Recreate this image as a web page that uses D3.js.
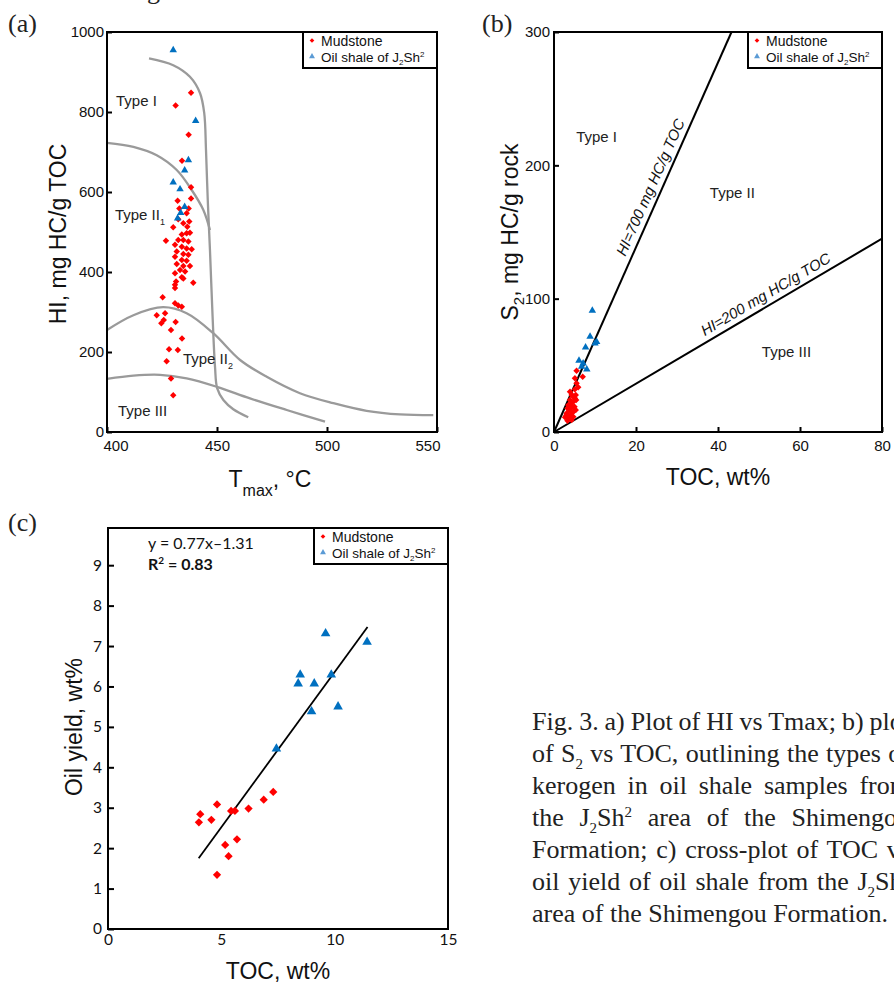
<!DOCTYPE html>
<html>
<head>
<meta charset="utf-8">
<script src="https://cdn.jsdelivr.net/npm/d3@7"></script>
<style>
  body { margin: 0; background: #fff; }
  svg { display: block; }
  .tick text { font-family: "Liberation Sans", Arial, sans-serif; fill: #111; }
</style>
</head>
<body>
<svg width="894" height="983"></svg>
<script>
/*
Data
*/
// (a) HI vs Tmax
var mudA = [
  [438.2,848],[431.2,816],[437.1,743],[434.1,678],[438.2,612],[432.1,578],[438.2,584],
  [432.9,559],[437.1,559],[436.2,547],[437.4,526],[432.4,532],[434.7,522],[436.5,513],
  [430.1,512],[426.8,478],[434.0,494],[436.2,497],[437.7,498],[434.7,480],[432.4,480],
  [437.0,476],[430.9,468],[434.0,463],[436.2,459],[438.5,457],[431.7,451],[434.7,445],
  [437.0,443],[430.9,438],[434.0,430],[436.2,428],[431.7,420],[434.7,415],[437.7,415],
  [433.2,405],[435.5,401],[430.9,397],[434.0,387],[431.4,376],[439.2,373],[430.9,368],
  [434.7,384],[430.9,360],[425.3,337],[430.9,322],[432.4,316],[434.0,313],[422.6,292],
  [426.4,297],[424.7,272],[425.8,280],[431.2,275],[429.1,255],[434.1,234],[428.2,207],
  [432.2,205],[427.1,177],[429.1,134],[430.1,92]
];
var shaleA = [
  [430.1,955],[440.3,778],[437.0,680],[435.3,654],[430.1,624],[433.2,607],[435.3,563],
  [433.5,548],[432.1,534]
];
// kerogen type boundary curves, [Tmax, HI]
var curveTypeI = [
  [419.1,934],[430.1,917],[437.7,888],[442.3,847],[444.2,797],[445.0,705],[445.8,580],
  [446.8,455],[448.0,288],[449.1,163],[450.1,109],[452.9,80],[457.4,57],[464.2,37]
];
var curveTypeII1 = [
  [400,723],[412,713],[422.6,692],[431.7,655],[438.5,605],[443.8,555],[446.8,505]
];
var curveTypeII2 = [
  [400,255],[412,292],[425.5,312],[436.2,297],[448.3,247],[460.5,180],[472.6,138],
  [487.7,97],[502.9,72],[518,53],[533.2,44],[548.3,42]
];
var curveTypeIII = [
  [400,133],[412,141],[424.1,143],[436.2,134],[449.9,113],[465,84],[481.7,55],[499.1,26]
];
var typeLabelsA = [
  {text: "Type I", sub: "", x: 404.1, y: 816},
  {text: "Type II", sub: "1", x: 403.6, y: 529},
  {text: "Type II", sub: "2", x: 434.5, y: 171},
  {text: "Type III", sub: "", x: 405.0, y: 41}
];
var ticksAx = [400, 450, 500, 550];
var ticksAy = [0, 200, 400, 600, 800, 1000];

// (b) S2 vs TOC
var mudB = [
  [5.5,46],[5.1,40.3],[7.0,41.5],[5.5,36.5],[5.9,33.5],[5.1,32],[4.3,27.8],[5.3,27.8],
  [3.9,24],[4.7,22.7],[3.5,20.3],[4.5,19],[3.7,16.5],[4.7,15.2],[3.1,14],[4.1,12.8],
  [2.7,11],[3.7,10.3],[4.7,11.5],[3.3,8.5],[4.3,9],[5.3,16.5],[5.1,25.3],[3.9,30.2],
  [3.3,17.8],[4.1,21],[5.0,19],[4.6,27],[5.4,24],[4.0,18],[3.0,12.5],[4.4,14.5]
];
var shaleB = [
  [9.35,91],[8.8,71.5],[10.4,67.7],[10.0,66.5],[7.7,63.5],[6.1,53.5],[7.1,51.5],
  [8.0,47],[6.75,49]
];
var hiLines = [
  {label: "HI=700 mg HC/g TOC", pts: [[0,0],[43.3,300]], at: 26},
  {label: "HI=200 mg HC/g TOC", pts: [[0,0],[80,145]], at: 53}
];
var typeLabelsB = [
  {text: "Type I", x: 5.4, y: 217.5},
  {text: "Type II", x: 38.0, y: 175.5},
  {text: "Type III", x: 50.7, y: 56}
];
var ticksBx = [0, 20, 40, 60, 80];
var ticksBy = [0, 100, 200, 300];

// (c) oil yield vs TOC
var mudC = [
  [4.01,2.64],[4.07,2.84],[4.81,3.08],[4.56,2.70],[5.43,2.92],[5.60,2.92],[6.20,2.98],
  [6.87,3.20],[7.29,3.39],[5.17,2.08],[5.69,2.22],[5.32,1.80],[4.81,1.34]
];
var shaleC = [
  [7.43,4.46],[9.60,7.31],[11.43,7.10],[8.48,6.29],[8.39,6.07],[9.10,6.07],[9.85,6.29],
  [8.98,5.38],[10.15,5.50]
];
var fitC = [[4.0,1.75],[11.45,7.47]];
var ticksCx = [0, 5, 10, 15];
var ticksCy = [0, 1, 2, 3, 4, 5, 6, 7, 8, 9];

var captionLines = [
  [["Fig. 3. a) Plot of HI vs Tmax; b) plot", ""]],
  [["of S", ""], ["2", "sub"], [" vs TOC, outlining the types of", ""]],
  [["kerogen in oil shale samples from", ""]],
  [["the J", ""], ["2", "sub"], ["Sh", ""], ["2", "sup"], [" area of the Shimengou", ""]],
  [["Formation; c) cross-plot of TOC vs", ""]],
  [["oil yield of oil shale from the J", ""], ["2", "sub"], ["Sh", ""], ["2", "sup"]],
  [["area of the Shimengou Formation.", ""]]
];

var RED = "#ff0000", BLUE = "#0070c0", GREY = "#9a9a9a";
var SANS = "'Liberation Sans', Arial, sans-serif";
var SERIF = "'Liberation Serif', 'Times New Roman', serif";

var svg = d3.select("svg");
svg.append("rect").attr("width", 894).attr("height", 983).attr("fill", "#fff");

/*
Scales
*/
var xA = d3.scaleLinear().domain([400, 550]).range([107, 437]),
    yA = d3.scaleLinear().domain([0, 1000]).range([432, 32]);
var xB = d3.scaleLinear().domain([0, 80]).range([554, 882]),
    yB = d3.scaleLinear().domain([0, 300]).range([432, 32]);
var xC = d3.scaleLinear().domain([0, 15]).range([108, 448]),
    yC = d3.scaleLinear().domain([0, 9.92]).range([929, 528]);

var diamond = function(size) {
  return d3.symbol().type(d3.symbolSquare).size(size)();
};
var triangle = function(size) {
  return d3.symbol().type(d3.symbolTriangle).size(size)();
};

function drawAxes(x, y, xt, yt, o) {
  var gx = svg.append("g")
      .attr("transform", "translate(0," + y.range()[0] + ")")
      .call(d3.axisBottom(x).tickValues(xt).tickFormat(d3.format("d"))
        .tickSizeInner(-o.xTick).tickSizeOuter(0).tickPadding(o.xPad));
  var gy = svg.append("g")
      .attr("transform", "translate(" + x.range()[0] + ",0)")
      .call(d3.axisLeft(y).tickValues(yt).tickFormat(d3.format("d"))
        .tickSizeInner(-o.yTick).tickSizeOuter(0).tickPadding(o.yPad));
  [gx, gy].forEach(function(g) {
    g.select(".domain").remove();
    g.selectAll(".tick line").attr("stroke", "#000").attr("stroke-width", 2);
    g.selectAll(".tick text").style("font-size", o.font + "px")
      .style("font-family", o.family || SANS);
  });
  return {gx: gx, gy: gy};
}

function drawFrame(x, y) {
  svg.append("rect")
    .attr("x", x.range()[0]).attr("y", y.range()[1])
    .attr("width", x.range()[1] - x.range()[0])
    .attr("height", y.range()[0] - y.range()[1])
    .attr("fill", "none").attr("stroke", "#000").attr("stroke-width", 2);
}

function drawPoints(data, x, y, kind, size) {
  svg.append("g").selectAll("path")
    .data(data).enter().append("path")
    .attr("d", kind == "mud" ? diamond(size) : triangle(size))
    .attr("transform", function(d) {
      return "translate(" + x(d[0]) + "," + y(d[1]) + ")" + (kind == "mud" ? "rotate(45)" : "");
    })
    .attr("fill", kind == "mud" ? RED : BLUE);
}

function drawLegend(x, y) {
  var bx = x.range()[1] - 134, by = y.range()[1];
  var g = svg.append("g").attr("transform", "translate(" + bx + "," + by + ")");
  g.append("rect").attr("width", 134).attr("height", 36)
    .attr("fill", "#fff").attr("stroke", "#000").attr("stroke-width", 2);
  g.append("path").attr("d", diamond(11))
    .attr("transform", "translate(9,8.5) rotate(45)").attr("fill", RED);
  g.append("path").attr("d", triangle(15))
    .attr("transform", "translate(9,24.5)").attr("fill", "#5b9bd5");
  g.append("text").attr("x", 18).attr("y", 13.5)
    .style("font", "14px " + SANS).attr("fill", "#111").text("Mudstone");
  var t = g.append("text").attr("x", 18).attr("y", 29.5)
    .style("font", "13.5px " + SANS).attr("fill", "#111");
  t.append("tspan").text("Oil shale of J");
  t.append("tspan").attr("dy", 3).style("font-size", "8px").text("2");
  t.append("tspan").attr("dy", -3).text("Sh");
  t.append("tspan").attr("dy", -5).style("font-size", "8px").text("2");
}

/*
Panel (a)
*/
var axA = drawAxes(xA, yA, ticksAx, ticksAy, {xTick: 5, yTick: 5, xPad: 8, yPad: 3, font: 15});
axA.gx.selectAll(".tick text").each(function(d) {
  if (d == 400) d3.select(this).attr("text-anchor", "start").attr("x", -4);
  if (d == 550) d3.select(this).attr("text-anchor", "end").attr("x", 3);
});

var curve = d3.line()
    .curve(d3.curveCatmullRom)
    .x(function(d) { return xA(d[0]); })
    .y(function(d) { return yA(d[1]); });

[curveTypeI, curveTypeII1, curveTypeII2, curveTypeIII].forEach(function(c) {
  svg.append("path").attr("d", curve(c))
    .attr("fill", "none").attr("stroke", GREY).attr("stroke-width", 2.3);
});

typeLabelsA.forEach(function(l) {
  var t = svg.append("text").attr("x", xA(l.x)).attr("y", yA(l.y))
    .style("font", "15px " + SANS).attr("fill", "#222").text(l.text);
  if (l.sub) t.append("tspan").attr("dy", 5).style("font-size", "9px").text(l.sub);
});

drawPoints(mudA, xA, yA, "mud", 21);
drawPoints(shaleA, xA, yA, "shale", 24);
drawFrame(xA, yA);
drawLegend(xA, yA);

svg.append("text")
  .attr("transform", "translate(66,234) rotate(-90)")
  .attr("text-anchor", "middle")
  .style("font", "23px " + SANS).attr("fill", "#111")
  .text("HI, mg HC/g TOC");

var tA = svg.append("text").attr("x", 270).attr("y", 487)
  .attr("text-anchor", "middle").style("font", "23px " + SANS).attr("fill", "#111");
tA.append("tspan").text("T");
tA.append("tspan").attr("dy", 9).style("font-size", "16px").text("max");
tA.append("tspan").attr("dy", -9).text(", °C");

/*
Panel (b)
*/
drawAxes(xB, yB, ticksBx, ticksBy, {xTick: 5, yTick: 5, xPad: 8, yPad: 4, font: 15});

var lineB = d3.line()
    .x(function(d) { return xB(d[0]); })
    .y(function(d) { return yB(d[1]); });

hiLines.forEach(function(h) {
  svg.append("path").attr("d", lineB(h.pts))
    .attr("fill", "none").attr("stroke", "#000").attr("stroke-width", 2);
  var p0 = h.pts[0], p1 = h.pts[1];
  var ang = Math.atan2(yB(p1[1]) - yB(p0[1]), xB(p1[0]) - xB(p0[0])) * 180 / Math.PI;
  var yv = p0[1] + (p1[1] - p0[1]) * (h.at - p0[0]) / (p1[0] - p0[0]);
  svg.append("text")
    .attr("transform", "translate(" + xB(h.at) + "," + yB(yv) + ") rotate(" + ang + ")")
    .attr("text-anchor", "middle").attr("dy", -6)
    .style("font", "italic 15px " + SANS).attr("fill", "#111")
    .text(h.label);
});

typeLabelsB.forEach(function(l) {
  svg.append("text").attr("x", xB(l.x)).attr("y", yB(l.y))
    .style("font", "15px " + SANS).attr("fill", "#222").text(l.text);
});

drawPoints(mudB, xB, yB, "mud", 21);
drawPoints(shaleB, xB, yB, "shale", 24);
drawFrame(xB, yB);
drawLegend(xB, yB);

var tyB = svg.append("text")
  .attr("transform", "translate(518,232) rotate(-90)")
  .attr("text-anchor", "middle")
  .style("font", "23px " + SANS).attr("fill", "#111");
tyB.append("tspan").text("S");
tyB.append("tspan").attr("dy", 6).style("font-size", "15px").text("2");
tyB.append("tspan").attr("dy", -6).text(", mg HC/g rock");

svg.append("text").attr("x", 718).attr("y", 485)
  .attr("text-anchor", "middle").style("font", "23px " + SANS).attr("fill", "#111")
  .text("TOC, wt%");

/*
Panel (c)
*/
drawAxes(xC, yC, ticksCx, ticksCy, {xTick: 0, yTick: 6, xPad: 5, yPad: 6, font: 15.5,
  family: "Lato, 'Liberation Sans', sans-serif"});

svg.append("path")
  .attr("d", d3.line().x(function(d) { return xC(d[0]); }).y(function(d) { return yC(d[1]); })(fitC))
  .attr("fill", "none").attr("stroke", "#000").attr("stroke-width", 1.8);

drawPoints(mudC, xC, yC, "mud", 34);
drawPoints(shaleC, xC, yC, "shale", 40);
drawFrame(xC, yC);
drawLegend(xC, yC);

svg.append("text").attr("x", 148).attr("y", 549)
  .style("font", "16px Lato, 'Liberation Sans', sans-serif").attr("fill", "#111")
  .text("y = 0.77x\u20131.31");
var r2 = svg.append("text").attr("x", 148).attr("y", 570)
  .style("font", "bold 16px Lato, 'Liberation Sans', sans-serif").attr("fill", "#111");
r2.append("tspan").text("R");
r2.append("tspan").attr("dy", -6).style("font-size", "10px").text("2");
r2.append("tspan").attr("dy", 6).text(" = 0.83");

svg.append("text")
  .attr("transform", "translate(82,727) rotate(-90)")
  .attr("text-anchor", "middle")
  .style("font", "23px " + SANS).attr("fill", "#111")
  .text("Oil yield, wt%");

svg.append("text").attr("x", 278).attr("y", 979)
  .attr("text-anchor", "middle").style("font", "23px " + SANS).attr("fill", "#111")
  .text("TOC, wt%");

/*
Panel letters and caption
*/
[["(a)", 8, 32], ["(b)", 482, 32], ["(c)", 8, 531]].forEach(function(p) {
  svg.append("text").attr("x", p[1]).attr("y", p[2])
    .style("font", "26px " + SERIF).attr("fill", "#222").text(p[0]);
});
svg.append("text").attr("x", 147).attr("y", -1)
  .style("font", "26px " + SERIF).attr("fill", "#222").text("g");

var capX = 532, capRight = 910;
var shift = {"": 0, "sub": 7, "sup": -9};
captionLines.forEach(function(line, i) {
  var t = svg.append("text").attr("x", capX).attr("y", 729.5 + i * 32.07)
    .style("font", "26px " + SERIF).attr("fill", "#222");
  var cur = 0;
  line.forEach(function(part) {
    var s = t.append("tspan").text(part[0]);
    var target = shift[part[1]];
    if (target != cur) s.attr("dy", target - cur);
    if (part[1]) s.style("font-size", "15px");
    cur = target;
  });
  if (i < captionLines.length - 1) {
    var len = t.node().getComputedTextLength();
    var full = line.map(function(p) { return p[0]; }).join("");
    var spaces = (full.match(/ /g) || []).length;
    t.attr("word-spacing", (capRight - capX - len) / spaces);
  }
});
</script>
</body>
</html>
